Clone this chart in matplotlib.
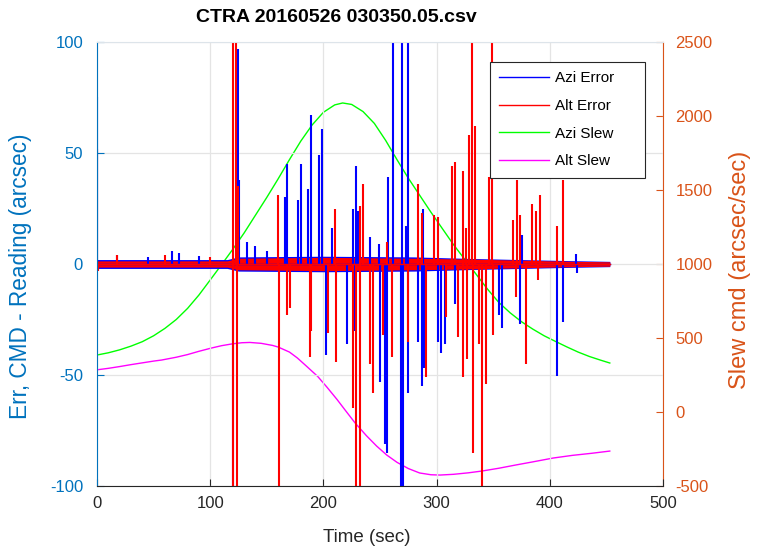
import matplotlib
matplotlib.use('Agg')
import matplotlib.pyplot as plt
import numpy as np

plt.rcParams['font.family'] = ['Liberation Sans', 'DejaVu Sans']
plt.rcParams['axes.unicode_minus'] = False

# slew command curves (arcsec/sec)
azi_slew_t = [0, 10, 20, 30, 40, 50, 60, 70, 80, 90, 100, 110, 120, 130, 140, 150, 160, 170, 180, 190,
              200, 210, 217, 225, 235, 245, 255, 265, 275, 285, 295, 305, 315, 325, 335, 345, 355, 365,
              375, 385, 395, 405, 415, 425, 435, 445, 453]
azi_slew_v = [385, 400, 420, 445, 475, 515, 565, 625, 700, 790, 892, 995, 1100, 1210, 1330, 1450, 1575,
              1705, 1830, 1939, 2025, 2075, 2088, 2078, 2030, 1950, 1835, 1705, 1580, 1465, 1350, 1240,
              1130, 1030, 930, 830, 740, 670, 610, 560, 515, 477, 440, 405, 375, 350, 331]
alt_slew_t = [0, 10, 20, 30, 40, 50, 57, 70, 80, 90, 101, 110, 120, 128, 135, 145, 155, 160, 170, 177,
              185, 195, 203, 212, 220, 228, 238, 247, 256, 265, 275, 285, 295, 303, 315, 328, 340, 355,
              370, 385, 403, 420, 437, 453]
alt_slew_v = [285, 295, 307, 320, 332, 344, 351, 370, 388, 410, 432, 448, 461, 468, 470, 464, 450, 439,
              405, 365, 310, 240, 169, 85, 5, -74, -160, -230, -291, -340, -382, -412, -424, -426, -421,
              -411, -399, -380, -358, -337, -311, -293, -279, -264]

# error spikes (arcsec); +/-140 means clipped off the chart
azi_t = [0, 18, 45, 66, 72, 90, 120, 124.5, 125, 132.6, 140, 150, 166, 168, 177.5, 180, 186, 189, 196, 199,
         202, 208, 221, 226, 227, 229, 231, 241, 249, 250, 254, 256, 257, 261.5, 268.5, 269, 270, 273, 274.7, 275,
         283.5, 287, 288, 289, 301, 304, 307, 316, 355, 357.8, 373.7, 375, 406, 411.7, 423, 424]
azi_v = [75, 4, 3, 6, 5, 3.5, -140, 97, 38, 10, 8, 6, 30, 45, 29, 45, 34, 67, 49, 61,
         -41, 16, -36, 25, -30, 44, 24, 12, 9, -53, -81, -85, 39, 140, -140, 140, -140, 17, 140, -58,
         -35, -55, 25, -47, -35, -40, -36, -18, -23, -29, -27, 13, -50.5, -26, 4.5, -4]
alt_t = [0, 0.5, 18, 60, 100, 120, 120.5, 123, 123.5, 124.5, 160, 160.5, 168, 170.5, 188, 189, 204, 210, 211,
         226, 229, 232, 232.5, 235, 241, 244, 253, 256, 261, 275, 283.5, 287, 291, 298, 301, 308, 313.6, 316,
         319, 323, 323.5, 326, 326.5, 328.6, 331, 332, 334, 337.5, 340, 343.6, 346, 349, 349.5, 367.5, 370,
         371, 373.7, 379, 384, 387.8, 390, 391, 406, 411.7]
alt_v = [52, -3, 4, 4, 3, 140, -140, 140, -140, 35, 31, -140, -23, -20, -42, -30, -31, 25, -44,
         -65, -140, 26, -140, 36, -45, -58, -32, 10, -42, -35, 36, 23, -51, 22, 21, -24, 44, 46,
         -33, 42, -51, 16, -43, 58, 140, -85, 62, -36, -140, -54, 39, 140, -32, 20, -15,
         38, 22, -45, 27, 24, -7, 31, 17, 38]

# half-width of the dense noise band around zero
band_t = [0, 115, 125, 200, 280, 330, 420, 453]
azi_band = [2.0, 2.0, 3.2, 3.5, 3.2, 2.5, 1.5, 1.2]
alt_band = [1.4, 1.4, 2.6, 3.0, 2.6, 2.2, 1.2, 1.0]

labels = ['Azi Error', 'Alt Error', 'Azi Slew', 'Alt Slew']

left_c = '#0072BD'
right_c = '#D95319'
dark = '#262626'

fig = plt.figure(figsize=(7.57, 5.5), dpi=100)
ax = fig.add_axes([97/757, 1-486/550, 566/757, 444/550])
ax2 = ax.twinx()
ax.set_zorder(ax2.get_zorder() + 1)
ax.patch.set_visible(False)

# slews on the right axis
g, = ax2.plot(azi_slew_t, azi_slew_v, color='#00ff00', lw=1.0)
m, = ax2.plot(alt_slew_t, alt_slew_v, color='#ff00ff', lw=1.0)
ax2.set_ylim(-500, 2500)
ax2.set_yticks(np.arange(-500, 2501, 500))

# errors on the left axis
bt = np.array(band_t)
ax.fill_between(bt, -np.array(azi_band), azi_band, color='#0000ff', lw=0)
ax.vlines(azi_t, 0, azi_v, color='#0000ff', lw=1.5)
b, = ax.plot([0, 453], [0, 0], color='#0000ff', lw=1.0)
ax.fill_between(bt, -np.array(alt_band), alt_band, color='#ff0000', lw=0)
ax.vlines(alt_t, 0, alt_v, color='#ff0000', lw=1.5)
r, = ax.plot([0, 453], [0, 0], color='#ff0000', lw=1.0)

ax.set_xlim(0, 500)
ax.set_ylim(-100, 100)
ax.set_xticks(np.arange(0, 501, 100))
ax.set_yticks([-100, -50, 0, 50, 100])
ax.grid(True, color='#e4e4e4', lw=0.9)
ax.set_axisbelow(True)

ax.tick_params(axis='x', direction='in', length=5, colors=dark, labelsize=12, pad=7)
ax.tick_params(axis='y', direction='in', length=5, colors=left_c, labelsize=12, pad=10)
ax2.tick_params(axis='y', direction='in', length=5, colors=right_c, labelsize=12, pad=9)

ax.spines['left'].set_color(left_c)
ax.spines['bottom'].set_color(dark)
ax.spines['top'].set_color('#dde4ea')
ax.spines['right'].set_visible(False)
for s in ['left', 'top', 'bottom']:
    ax2.spines[s].set_visible(False)
ax2.spines['right'].set_color(right_c)

ax.set_xlabel('Time (sec)', fontsize=13.5, color=dark)
ax.xaxis.set_label_coords((367-97)/566, -0.117)
ax.xaxis.label.set_va('center')
ax.set_ylabel('Err, CMD - Reading (arcsec)', fontsize=16.3, color=left_c)
ax.yaxis.set_label_coords(-0.136, 0.473)
ax.yaxis.label.set_va('center')
ax2.set_ylabel('Slew cmd (arcsec/sec)', fontsize=17, color=right_c)
ax2.yaxis.set_label_coords(1.136, 0.486)
ax2.yaxis.label.set_va('center')

fig.text(336/757, 1-17/550, 'CTRA 20160526 030350.05.csv', ha='center', va='center',
         fontsize=14, fontweight='bold', color='black')

# trailing spaces give the wide right margin of the original legend box
leg = ax.legend([b, r, g, m], [s + ' ' * 5 for s in labels],
                loc='upper right', bbox_to_anchor=(0.968, 0.955), borderaxespad=0,
                fontsize=11, handlelength=3.3, handletextpad=0.4, labelspacing=0.9,
                borderpad=0.6, fancybox=False, framealpha=1, edgecolor=dark)
leg.get_frame().set_linewidth(0.8)

fig.savefig('out.png', dpi=100)
